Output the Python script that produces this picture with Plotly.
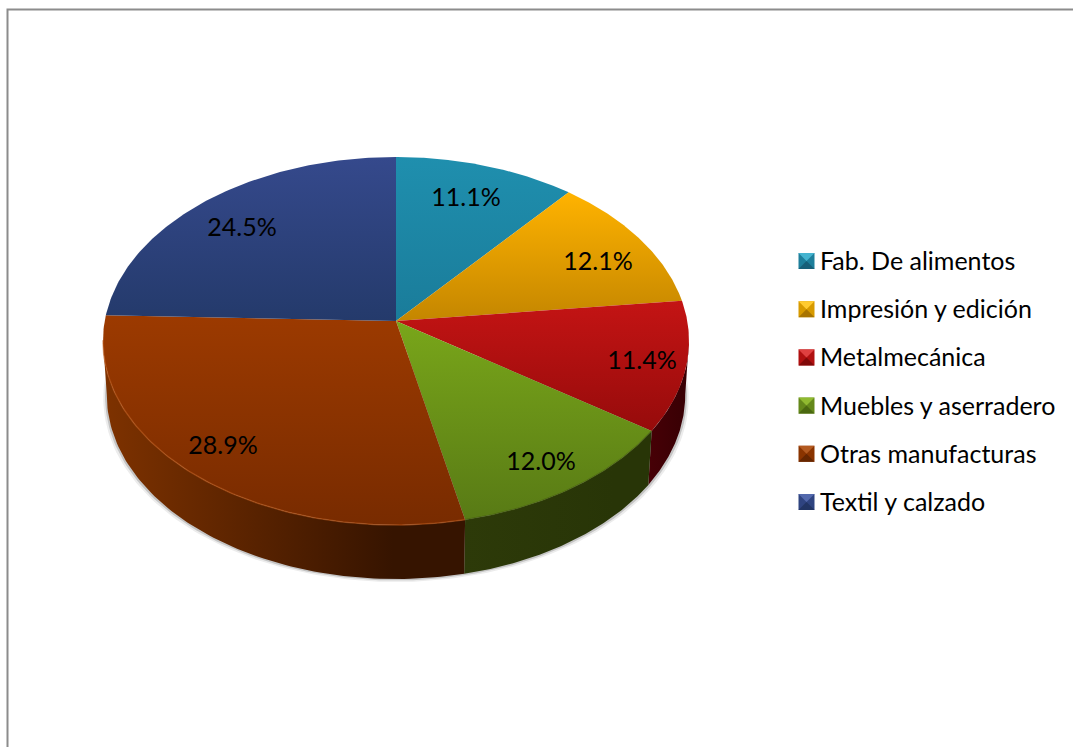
import numpy as np
import plotly.graph_objects as go

categories = ["Fab. De alimentos", "Impresión y edición", "Metalmecánica",
              "Muebles y aserradero", "Otras manufacturas", "Textil y calzado"]
shares = [11.1, 12.1, 11.4, 12.0, 28.9, 24.5]

top_light = ["#1f8fae", "#ffb300", "#c41414", "#79a61a", "#9c3a00", "#35498c"]
top_dark = ["#1a7c9a", "#c48600", "#960b0b", "#587a15", "#782b00", "#243a6b"]
side_light = ["#123f4e", "#6a4800", "#470006", "#2d3a09", "#7e3200", "#1c2b50"]
side_dark = ["#123f4e", "#6a4800", "#3a0004", "#283507", "#361400", "#1c2b50"]
icon_mid = ["#1e7f9b", "#d79a00", "#b01010", "#64881a", "#8a3400", "#2f4480"]
icon_top = ["#45b4d0", "#ffcb30", "#e04040", "#90ba30", "#b35a20", "#5369ad"]
icon_bot = ["#175f78", "#a87400", "#800909", "#4a6810", "#662600", "#223564"]

CX, CY, XR, YR, PERSP = 396.0, 321.0, 291.3, 181.8, 0.1087
DEPTH, SHRINK = 54.0, 0.987
VIS_A, VIS_B = 96.0, 264.0


def top_xy(deg):
    t = np.radians(deg)
    u, v = np.sin(t), np.cos(t)
    d = 1 + PERSP * v
    return CX + XR * u / d, CY - YR * v / d


def bot_xy(deg):
    x, y = top_xy(deg)
    return CX + SHRINK * (x - CX), y + DEPTH


fig = go.Figure()

# frame
fig.add_trace(go.Scatter(x=[7.5, 7.5, 1073], y=[747, 9.5, 9.5], mode="lines",
                         line=dict(color="#8c8c8c", width=2), hoverinfo="skip", showlegend=False))

# soft shadow
full = np.linspace(VIS_A - 12, VIS_B + 12, 160)
for grow, shift, col in [(1.012, 3.0, "#ececec"), (1.006, 1.5, "#c4c4c4")]:
    bx, by = bot_xy(full)
    fig.add_trace(go.Scatter(x=CX + grow * (bx - CX), y=by + shift, mode="lines", fill="toself",
                             fillcolor=col, line=dict(width=0), hoverinfo="skip", showlegend=False))

edges = np.concatenate([[0], np.cumsum(shares)]) * 3.6

# side walls
for i in range(len(shares)):
    a, b = max(edges[i], VIS_A), min(edges[i + 1], VIS_B)
    if b <= a:
        continue
    th = np.linspace(a, b, 90)
    tx, ty = top_xy(th)
    bx, by = bot_xy(th[::-1])
    xs = np.concatenate([tx, bx, tx[:1]])
    ys = np.concatenate([ty, by, ty[:1]])
    fig.add_trace(go.Scatter(x=xs, y=ys, mode="lines", fill="toself", line=dict(width=0),
                             fillgradient=dict(type="horizontal",
                                               colorscale=[[0, side_light[i]], [0.8, side_dark[i]], [1, side_dark[i]]]),
                             hoverinfo="skip", showlegend=False))

# top faces
for i, name in enumerate(categories):
    th = np.linspace(edges[i], edges[i + 1], 120)
    tx, ty = top_xy(th)
    xs = np.concatenate([[CX], tx, [CX]])
    ys = np.concatenate([[CY], ty, [CY]])
    fig.add_trace(go.Scatter(x=xs, y=ys, mode="lines", fill="toself", line=dict(width=0),
                             fillgradient=dict(type="vertical", colorscale=[[0, top_dark[i]], [1, top_light[i]]]),
                             name=name, hoverinfo="skip", showlegend=False))

# front rim highlights
rim = [(124.6, 167.8, "rgba(60,80,10,0.45)"), (167.8, 264.0, "rgba(190,90,25,0.55)")]
for a, b, col in rim:
    tx, ty = top_xy(np.linspace(a, b, 90))
    fig.add_trace(go.Scatter(x=tx, y=ty, mode="lines", line=dict(color=col, width=1.5),
                             hoverinfo="skip", showlegend=False))

# percentage labels
label_x = [466, 598, 642, 541, 223, 242]
label_y = [200, 264, 363, 464, 448, 230]
fig.add_trace(go.Scatter(x=label_x, y=label_y, mode="text", text=[f"{s:.1f}%" for s in shares],
                         textposition="middle center",
                         textfont=dict(family="Lato", size=25, color="#000000"),
                         hoverinfo="skip", showlegend=False))

# legend
LEG_X, LEG_Y, LEG_GAP, H = 806.5, 261.0, 48.2, 8.0
for i, name in enumerate(categories):
    y0 = LEG_Y + i * LEG_GAP
    cx0, cy0 = LEG_X, y0
    fig.add_trace(go.Scatter(x=[cx0 - H, cx0 + H, cx0 + H, cx0 - H, cx0 - H],
                             y=[y0 - H, y0 - H, y0 + H, y0 + H, y0 - H], mode="lines", fill="toself",
                             fillcolor=icon_mid[i], line=dict(width=0), hoverinfo="skip", showlegend=False))
    fig.add_trace(go.Scatter(x=[cx0 - H, cx0 + H, cx0, cx0 - H], y=[y0 - H, y0 - H, cy0, y0 - H],
                             mode="lines", fill="toself", fillcolor=icon_top[i], line=dict(width=0),
                             hoverinfo="skip", showlegend=False))
    fig.add_trace(go.Scatter(x=[cx0 - H, cx0 + H, cx0, cx0 - H], y=[y0 + H, y0 + H, cy0, y0 + H],
                             mode="lines", fill="toself", fillcolor=icon_bot[i], line=dict(width=0),
                             hoverinfo="skip", showlegend=False))
    fig.add_annotation(x=818, y=y0 - 1, xref="x", yref="y", text=name, showarrow=False, xanchor="left",
                       yanchor="middle", font=dict(family="Lato", size=25, color="#000000"))

fig.update_layout(width=1073, height=747, margin=dict(l=0, r=0, t=0, b=0),
                  paper_bgcolor="white", plot_bgcolor="white", showlegend=False,
                  xaxis=dict(range=[0, 1073], visible=False, fixedrange=True),
                  yaxis=dict(range=[747, 0], visible=False, fixedrange=True))
fig.write_html("out.html", config=dict(displayModeBar=False),
               post_script="document.body.style.margin='0';document.documentElement.style.overflow='hidden';")
